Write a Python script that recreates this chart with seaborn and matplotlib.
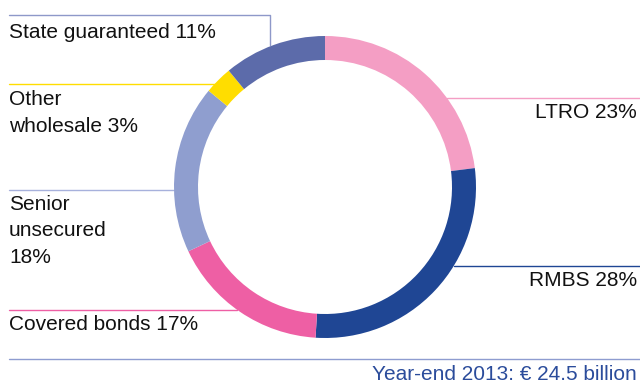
import numpy as np
import matplotlib
matplotlib.use("Agg")
import matplotlib.pyplot as plt
import seaborn as sns

# Funding mix, clockwise from 12 o'clock
categories = ["LTRO", "RMBS", "Covered bonds", "Senior unsecured",
              "Other wholesale", "State guaranteed"]
shares = [23, 28, 17, 18, 3, 11]
labels = ["LTRO 23%", "RMBS 28%", "Covered bonds 17%", "Senior\nunsecured\n18%",
          "Other\nwholesale 3%", "State guaranteed 11%"]
footer = "Year-end 2013: € 24.5 billion"

sns.set_theme(style="white")
plt.rcParams["font.family"] = ["Liberation Sans", "DejaVu Sans"]

wedge_colors = sns.color_palette(["#F49EC4", "#1F4694", "#EE5FA4",
                                  "#8F9ECF", "#FFDD00", "#5C6BAA"])
line_colors = {"LTRO": "#F49EC4", "RMBS": "#1F4694", "Covered bonds": "#EE5FA4",
               "Senior unsecured": "#A7B1DC", "Other wholesale": "#FFDD00",
               "State guaranteed": "#8E98C9"}

W, H = 640, 383
fig = plt.figure(figsize=(6.4, 3.83), dpi=100)
ax = fig.add_axes([0, 0, 1, 1])

cx, cy, R, ring = 325, H - 187, 151, 24
ax.pie(shares, colors=wedge_colors, radius=R, center=(cx, cy),
       startangle=90, counterclock=False,
       wedgeprops=dict(width=ring, linewidth=0), frame=True)


def ring_x(y_px, side):
    dy = (H - y_px) - cy
    return cx + side * np.sqrt(max(R ** 2 - dy ** 2, 0))


lw = 1.0
# left-hand leader lines
sg = "State guaranteed"
ax.plot([9, 270, 270], [H - 15, H - 15, H - 45], color=line_colors[sg], lw=lw, zorder=0)
ax.plot([9, ring_x(84, -1)], [H - 84, H - 84], color=line_colors["Other wholesale"], lw=lw, zorder=0)
ax.plot([9, ring_x(190, -1)], [H - 190, H - 190], color=line_colors["Senior unsecured"], lw=lw, zorder=0)
ax.plot([9, ring_x(310, -1)], [H - 310, H - 310], color=line_colors["Covered bonds"], lw=lw, zorder=0)
# right-hand leader lines
ax.plot([ring_x(98, 1), W], [H - 98, H - 98], color=line_colors["LTRO"], lw=lw, zorder=0)
ax.plot([ring_x(266, 1), W], [H - 266, H - 266], color=line_colors["RMBS"], lw=lw, zorder=0)
# bottom rule
ax.plot([9, W], [H - 359, H - 359], color="#8E9CD0", lw=lw, zorder=0)

fs = 15
txt = dict(fontsize=fs, color="#111111", linespacing=1.47)
ax.text(9, H - 32, labels[5], ha="left", va="center", **txt)
ax.text(9, H - 113, labels[4], ha="left", va="center", **txt)
ax.text(9, H - 231, labels[3], ha="left", va="center", **txt)
ax.text(9, H - 325, labels[2], ha="left", va="center", **txt)
ax.text(637, H - 113, labels[0], ha="right", va="center", **txt)
ax.text(637, H - 281, labels[1], ha="right", va="center", **txt)
ax.text(637, H - 374, footer, ha="right", va="center", fontsize=fs, color="#2B4C9B")

ax.set_xlim(0, W)
ax.set_ylim(0, H)
ax.set_aspect("auto")
ax.axis("off")

fig.savefig("out.png", dpi=100, facecolor="white")
